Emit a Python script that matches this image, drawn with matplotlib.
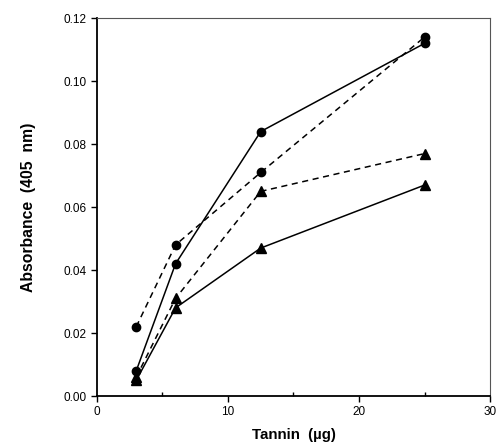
import matplotlib
matplotlib.use("Agg")
import matplotlib.pyplot as plt

plt.rcParams['font.family'] = ['Liberation Sans', 'DejaVu Sans']

tannin = [3, 6, 12.5, 25]
circ_solid = [0.008, 0.042, 0.084, 0.112]
circ_dash = [0.022, 0.048, 0.071, 0.114]
tri_dash = [0.006, 0.031, 0.065, 0.077]
tri_solid = [0.005, 0.028, 0.047, 0.067]

fig = plt.figure(figsize=(4.97, 4.44), dpi=100)
ax = fig.add_axes([0.195, 0.108, 0.791, 0.851])

ax.plot(tannin, circ_solid, '-', color='black', lw=1.1, marker='o', ms=6)
ax.plot(tannin, circ_dash, '--', color='black', lw=1.1, marker='o', ms=6, dashes=(4, 3))
ax.plot(tannin, tri_dash, '--', color='black', lw=1.1, marker='^', ms=7, dashes=(4, 3))
ax.plot(tannin, tri_solid, '-', color='black', lw=1.1, marker='^', ms=7)

ax.set_xlim(0, 30)
ax.set_ylim(0, 0.12)
ax.set_xticks([0, 10, 20, 30])
ax.set_xticks([5, 15, 25], minor=True)
ax.set_yticks([0, 0.02, 0.04, 0.06, 0.08, 0.10, 0.12])
ax.set_yticklabels(['0.00', '0.02', '0.04', '0.06', '0.08', '0.10', '0.12'])
ax.tick_params(axis='both', which='major', direction='out', length=4, width=1, labelsize=8.5)
ax.tick_params(axis='x', which='minor', direction='in', length=3, width=1)

for s in ['left', 'bottom']:
    ax.spines[s].set_linewidth(1.3)
for s in ['top', 'right']:
    ax.spines[s].set_linewidth(0.8)
    ax.spines[s].set_color('#555555')

ax.set_xlabel('Tannin  (\u00b5g)', fontsize=10.8, fontweight='bold', labelpad=7)
ax.set_ylabel('Absorbance  (405  nm)', fontsize=11.3, fontweight='bold', labelpad=20)

fig.savefig('out.png', dpi=100)
